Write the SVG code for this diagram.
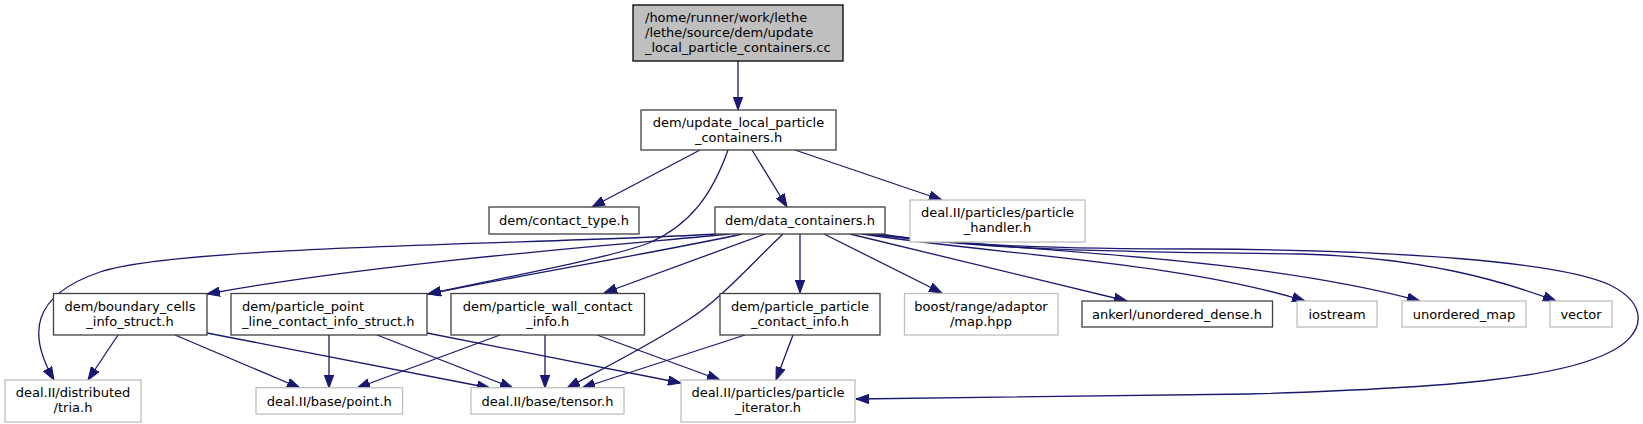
<svg xmlns="http://www.w3.org/2000/svg" width="1643" height="424" viewBox="0 0 1643 424">
<style>
text{font-family:"DejaVu Sans","Liberation Sans",sans-serif;font-size:13px;fill:#000}
.c{text-anchor:middle}
.l{text-anchor:start}
.n{fill:#fff;stroke:#404040;stroke-width:1.3}
.g{fill:#fff;stroke:#bfbfbf;stroke-width:1.3}
.r{fill:#bfbfbf;stroke:#000;stroke-width:1.3}
.e{fill:none;stroke:#191970;stroke-width:1.3;marker-end:url(#a)}
</style>
<defs>
<marker id="a" markerUnits="userSpaceOnUse" markerWidth="14" markerHeight="10" refX="13" refY="5" orient="auto">
<path d="M0,0.3 L13,5 L0,9.7 z" fill="#191970" stroke="#191970" stroke-width="1"/>
</marker>
</defs>
<g id="edges">
<path class="e" d="M738,61 L738,110"/>
<path class="e" d="M700,150 L592,207"/>
<path class="e" d="M728,150 C712,195 690,225 649,243 C610,258 500,278 428,294"/>
<path class="e" d="M752,150 L787,207"/>
<path class="e" d="M795,150 L942,200"/>
<path class="e" d="M715,234 C560,244 180,245 100,272 C30,296 28,335 54,380"/>
<path class="e" d="M730,234 C640,243 380,262 207,294"/>
<path class="e" d="M742,234 C680,248 540,272 428,294"/>
<path class="e" d="M765,234 L604,293"/>
<path class="e" d="M783,234 C750,265 720,300 688,320 C650,345 600,370 567,388"/>
<path class="e" d="M800,234 L800,293"/>
<path class="e" d="M824,234 L942,293"/>
<path class="e" d="M850,234 L1127,301"/>
<path class="e" d="M862,234 C1000,255 1180,262 1305,301"/>
<path class="e" d="M868,234 C1000,250 1250,255 1420,301"/>
<path class="e" d="M874,234 C1000,252 1150,252 1300,254 C1420,257 1500,280 1556,301"/>
<path class="e" d="M880,234 C950,245 1050,249 1200,249 C1400,250 1560,262 1610,285 C1650,305 1645,335 1610,352 C1560,378 1450,388 1250,394 C1100,397 950,399 856,399"/>
<path class="e" d="M118,335 L88,380"/>
<path class="e" d="M175,335 L300,388"/>
<path class="e" d="M207,333 L490,388"/>
<path class="e" d="M329,335 L329,388"/>
<path class="e" d="M377,335 L513,388"/>
<path class="e" d="M427,333 L681,383"/>
<path class="e" d="M500,335 L357,388"/>
<path class="e" d="M545,335 L545,388"/>
<path class="e" d="M597,335 L720,380"/>
<path class="e" d="M745,335 L582,388"/>
<path class="e" d="M793,335 L776,380"/>
</g>
<g id="root"><rect class="r" x="633" y="5" width="210" height="56"/><text class="l" x="645" y="22">/home/runner/work/lethe</text><text class="l" x="645" y="37">/lethe/source/dem/update</text><text class="l" x="645" y="52">_local_particle_containers.cc</text></g>
<g id="update"><rect class="n" x="641" y="110" width="195" height="40"/><text class="c" x="738.5" y="127">dem/update_local_particle</text><text class="c" x="738.5" y="142">_containers.h</text></g>
<g id="contact_type"><rect class="n" x="489" y="207" width="150" height="27"/><text class="c" x="564" y="225">dem/contact_type.h</text></g>
<g id="data_containers"><rect class="n" x="715" y="207" width="170" height="27"/><text class="c" x="800" y="225">dem/data_containers.h</text></g>
<g id="particle_handler"><rect class="g" x="910" y="200" width="175" height="42"/><text class="c" x="997.5" y="217">deal.II/particles/particle</text><text class="c" x="997.5" y="232">_handler.h</text></g>
<g id="boundary"><rect class="n" x="53.5" y="293.5" width="153.5" height="41.5"/><text class="c" x="130" y="311">dem/boundary_cells</text><text class="c" x="130" y="326">_info_struct.h</text></g>
<g id="ppl"><rect class="n" x="231" y="293.5" width="196" height="41.5"/><text class="l" x="242" y="311">dem/particle_point</text><text class="l" x="242" y="326">_line_contact_info_struct.h</text></g>
<g id="wall"><rect class="n" x="451" y="293.5" width="193.5" height="41.5"/><text class="c" x="547.7" y="311">dem/particle_wall_contact</text><text class="c" x="547.7" y="326">_info.h</text></g>
<g id="pp"><rect class="n" x="720" y="293.5" width="160" height="41.5"/><text class="c" x="800" y="311">dem/particle_particle</text><text class="c" x="800" y="326">_contact_info.h</text></g>
<g id="boost"><rect class="g" x="904.5" y="293.5" width="153.5" height="41.5"/><text class="c" x="981" y="311">boost/range/adaptor</text><text class="c" x="981" y="326">/map.hpp</text></g>
<g id="ankerl"><rect class="n" x="1082" y="301" width="190.5" height="26"/><text class="c" x="1177" y="318.5">ankerl/unordered_dense.h</text></g>
<g id="iostream"><rect class="g" x="1297" y="301" width="80" height="26"/><text class="c" x="1337" y="318.5">iostream</text></g>
<g id="unordered_map"><rect class="g" x="1402" y="301" width="124" height="26"/><text class="c" x="1464" y="318.5">unordered_map</text></g>
<g id="vector"><rect class="g" x="1550" y="301" width="62" height="26"/><text class="c" x="1581" y="318.5">vector</text></g>
<g id="tria"><rect class="g" x="5" y="380" width="136" height="42"/><text class="c" x="73" y="397">deal.II/distributed</text><text class="c" x="73" y="412">/tria.h</text></g>
<g id="point"><rect class="g" x="256" y="387.7" width="146.6" height="26.3"/><text class="c" x="329.3" y="405.5">deal.II/base/point.h</text></g>
<g id="tensor"><rect class="g" x="471" y="387.7" width="153" height="26.3"/><text class="c" x="547.5" y="405.5">deal.II/base/tensor.h</text></g>
<g id="iterator"><rect class="g" x="681" y="380" width="174" height="42"/><text class="c" x="768" y="397">deal.II/particles/particle</text><text class="c" x="768" y="412">_iterator.h</text></g>
</svg>
